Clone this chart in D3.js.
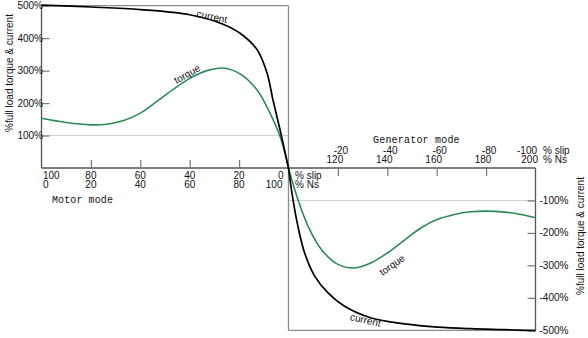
<!DOCTYPE html>
<html><head><meta charset="utf-8">
<script src="https://cdn.jsdelivr.net/npm/d3@7"></script>
<style>
html,body{margin:0;padding:0;background:#fff;}
svg{display:block;font-family:"Liberation Sans",Arial,sans-serif;}
</style></head>
<body><svg id="c" width="588" height="338"></svg>
<script>
// ---- data ----
const motorCurrentSlip = [100, 80, 60, 40, 26.5, 19.6, 12.7, 8.7, 6.3, 3.4, 0];
const motorCurrent     = [502, 496, 488, 472, 443, 415, 364, 293, 210, 117, 0];
const motorTorqueSlip  = [100, 90, 80, 73.5, 66.7, 60, 53.3, 46.5, 39.8, 33, 26.3, 19.6, 12.8, 7.5, 3.4, 0];
const motorTorque      = [153, 140, 133, 135, 146, 169, 205, 243, 277, 300, 308, 290, 241, 169, 97, 0];
const genCurrentSlip   = [0, -1.8, -3.8, -6.5, -10.6, -16, -22.7, -33.5, -47, -60.4, -73.9, -87.4, -100];
const genCurrent       = [0, -97, -179, -261, -333, -385, -426, -462, -480, -490, -495, -498, -501];
const genTorqueSlip    = [0, -3.8, -7.9, -13.3, -20, -26.7, -33.5, -40.2, -47, -53.7, -60.4, -67.2, -73.9, -80.6, -87.4, -94.1, -100];
const genTorque        = [0, -97, -179, -251, -297, -308, -292, -261, -222, -184, -158, -143, -135, -133, -136, -143, -153];

const motorSlipTicks = [100, 80, 60, 40, 20, 0];
const motorNsTicks   = [0, 20, 40, 60, 80, 100];
const genSlipTicks   = [-20, -40, -60, -80, -100];
const genNsTicks     = [120, 140, 160, 180, 200];
const leftPctTicks   = [100, 200, 300, 400, 500];
const rightPctTicks  = [-100, -200, -300, -400, -500];
const axisTitle = "%full load torque & current";

// ---- scales ----
const x = d3.scaleLinear().domain([100, -100]).range([41.5, 535.5]);
const y = d3.scaleLinear().domain([-500, 500]).range([330.3, 5.7]);
const svg = d3.select("#c");
const x0 = x(0), y0 = y(0);
const green = "#2b8a57";

// gridlines
svg.append("line").attr("x1", x(100)).attr("x2", x0).attr("y1", y(100)).attr("y2", y(100))
  .attr("stroke", "#cfcfcf").attr("stroke-width", 1);
svg.append("line").attr("x1", x0).attr("x2", x(-100)).attr("y1", y(-100)).attr("y2", y(-100))
  .attr("stroke", "#cfcfcf").attr("stroke-width", 1);

// frame lines
const gray = "#8a8a8a";
svg.append("line").attr("x1", x(100)).attr("x2", x0).attr("y1", y(500)).attr("y2", y(500)).attr("stroke", gray).attr("stroke-width", 1.3);
svg.append("line").attr("x1", x0).attr("x2", x0).attr("y1", y(500)).attr("y2", y(-500)).attr("stroke", gray).attr("stroke-width", 1.3);
svg.append("line").attr("x1", x0).attr("x2", x(-100)).attr("y1", y(-500)).attr("y2", y(-500)).attr("stroke", gray).attr("stroke-width", 1.3);

// axes (D3 axes)
const leftAxis = svg.append("g").attr("transform", `translate(${x(100)},0)`)
  .call(d3.axisRight(y).tickValues(leftPctTicks).tickSize(8).tickFormat(""));
leftAxis.select(".domain").attr("d", `M0,${y(500)}V${y0}`);
const rightAxis = svg.append("g").attr("transform", `translate(${x(-100)},0)`)
  .call(d3.axisLeft(y).tickValues(rightPctTicks).tickSize(8).tickFormat(""));
rightAxis.select(".domain").attr("d", `M0,${y0}V${y(-500)}`);
const botAxisL = svg.append("g").attr("transform", `translate(0,${y0})`)
  .call(d3.axisTop(x).tickValues([80, 60, 40, 20]).tickSize(8).tickFormat(""));
botAxisL.select(".domain").attr("d", `M${x(100)},0H${x(-100)}`);
const botAxisR = svg.append("g").attr("transform", `translate(0,${y0})`)
  .call(d3.axisBottom(x).tickValues([-20, -40, -60, -80]).tickSize(8).tickFormat(""));
botAxisR.select(".domain").remove();
svg.selectAll(".domain").attr("stroke", "#555").attr("stroke-width", 1.3);
svg.selectAll(".tick line").attr("stroke", "#777").attr("stroke-width", 1.2);

// tick labels
const fs = 10;
const lab = (t, px, py, anchor) => svg.append("text").attr("x", px).attr("y", py).attr("font-size", fs)
    .attr("text-anchor", anchor || "start").attr("fill", "#111").text(t);
leftPctTicks.forEach(v => lab(v + "%", x(100) + 1.5, y(v), "end").attr("dominant-baseline", "central"));
rightPctTicks.forEach(v => lab(v + "%", x(-100) + 4, y(v), "start").attr("dominant-baseline", "central"));

motorSlipTicks.forEach((v, i) => {
  const anchor = v === 100 ? "start" : (v === 0 ? "end" : "middle");
  const dx = v === 100 ? 1.5 : (v === 0 ? -5 : 0);
  lab(String(v), x(v) + dx, 178.5, anchor);
  lab(String(motorNsTicks[i]), x(v) + dx + (v === 0 ? -1 : 0), 188, anchor);
});
lab("% slip", x0 + 6.5, 178.5, "start");
lab("% Ns", x0 + 6.5, 188, "start");

genSlipTicks.forEach((v, i) => {
  const last = v === -100;
  lab(String(v), last ? x(v) + 1.5 : x(v) + 3, 153.5, last ? "end" : "middle");
  lab(String(genNsTicks[i]), last ? x(v) + 2.5 : x(v) - 3, 163, last ? "end" : "middle");
});
lab("% slip", x(-100) + 7.5, 153.5, "start");
lab("% Ns", x(-100) + 7.5, 163, "start");

// mode labels
const mono = '"Liberation Mono","DejaVu Sans Mono",monospace';
svg.append("text").attr("x", 52).attr("y", 203).attr("font-size", 10).attr("font-family", mono)
  .attr("letter-spacing", 0.1).attr("fill", "#111").text("Motor mode");
svg.append("text").attr("x", 373).attr("y", 143).attr("font-size", 10).attr("font-family", mono)
  .attr("letter-spacing", 0.2).attr("fill", "#111").text("Generator mode");

// axis titles
svg.append("text").attr("transform", "translate(12.5,73) rotate(-90)").attr("text-anchor", "middle")
  .attr("font-size", fs).attr("fill", "#111").text(axisTitle);
svg.append("text").attr("transform", "translate(583.5,236) rotate(-90)").attr("text-anchor", "middle")
  .attr("font-size", fs).attr("fill", "#111").text(axisTitle);

// curves
const mk = d3.line().x(d => x(d[0])).y(d => y(d[1])).curve(d3.curveCatmullRom.alpha(0.5));
const zip = (a, b) => a.map((s, i) => [s, b[i]]).sort((p, q) => x(p[0]) - x(q[0]));
const draw = (s, v, col, w) => svg.append("path").attr("d", mk(zip(s, v)))
  .attr("fill", "none").attr("stroke", col).attr("stroke-width", w);
draw(motorTorqueSlip, motorTorque, green, 1.6);
draw(genTorqueSlip, genTorque, green, 1.6);
draw(motorCurrentSlip, motorCurrent, "#000", 1.7);
draw(genCurrentSlip, genCurrent, "#000", 1.7);

// curve labels
const cl = (t, px, py, rot) => svg.append("text")
  .attr("transform", `translate(${px},${py}) rotate(${rot})`).attr("text-anchor", "middle")
  .attr("dominant-baseline", "central").attr("font-size", fs).attr("fill", "#111").text(t);
cl("current", 212, 16.5, 12);
cl("torque", 187, 74, -30);
cl("torque", 392, 265, -35);
cl("current", 365.5, 320, 13);
</script></body></html>
